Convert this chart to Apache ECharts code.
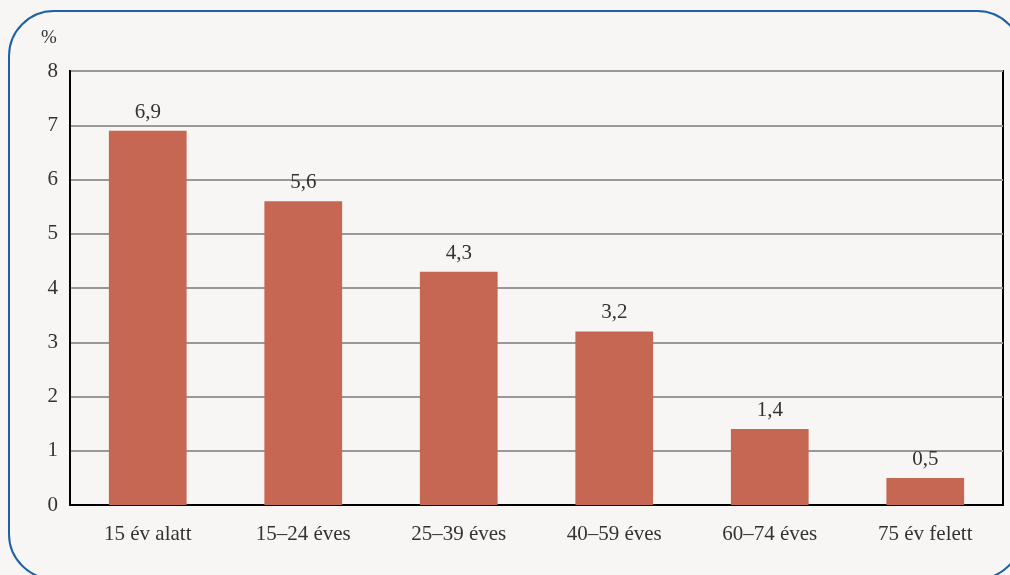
<!DOCTYPE html>
<html>
<head>
<meta charset="utf-8">
<script src="https://cdn.jsdelivr.net/npm/echarts@6/dist/echarts.min.js"></script>
<style>
  html, body { margin: 0; padding: 0; background: #f7f6f4; }
  #chart { width: 1010px; height: 575px; }
</style>
</head>
<body>
<div id="chart"></div>
<script>
const categories = ['15 év alatt', '15–24 éves', '25–39 éves', '40–59 éves', '60–74 éves', '75 év felett'];
const values = [6.9, 5.6, 4.3, 3.2, 1.4, 0.5];
const yMin = 0;
const yMax = 8;
const yStep = 1;

const font = '"Liberation Serif", "DejaVu Serif", serif';
const chart = echarts.init(document.getElementById('chart'));

const option = {
    backgroundColor: '#f7f6f4',
    animation: false,
    textStyle: { fontFamily: font },
    graphic: [
        {
            type: 'rect',
            shape: { x: 9, y: 11, width: 1013, height: 568, r: 45 },
            style: { fill: 'none', stroke: '#1e62a3', lineWidth: 2 },
            z: 0,
        },
        {
            type: 'text',
            left: 41,
            top: 29,
            style: { text: '%', font: '19px ' + font, fill: '#333' },
        },
    ],
    grid: {
        left: 70,
        right: 7,
        top: 71,
        bottom: 70,
        show: true,
        borderColor: '#000',
        borderWidth: 2,
        backgroundColor: 'transparent',
    },
    xAxis: {
        type: 'category',
        data: categories,
        axisLine: { lineStyle: { color: '#000', width: 2 } },
        axisTick: { show: false },
        axisLabel: { color: '#333', fontSize: 21, fontFamily: font, margin: 19 },
    },
    yAxis: {
        type: 'value',
        min: yMin,
        max: yMax,
        interval: yStep,
        axisLine: { show: true, lineStyle: { color: '#000', width: 2 } },
        axisTick: { show: false },
        axisLabel: { color: '#333', fontSize: 21, fontFamily: font, margin: 12 },
        splitLine: { lineStyle: { color: '#999', width: 2 } },
    },
    series: [
        {
            type: 'bar',
            data: values,
            barWidth: '50%',
            itemStyle: { color: '#c66753' },
            label: {
                show: true,
                position: 'top',
                distance: 8,
                color: '#333',
                fontSize: 21,
                fontFamily: font,
                formatter: (p) => String(p.value).replace('.', ','),
            },
        },
    ],
};
chart.setOption(option);
</script>
</body>
</html>
